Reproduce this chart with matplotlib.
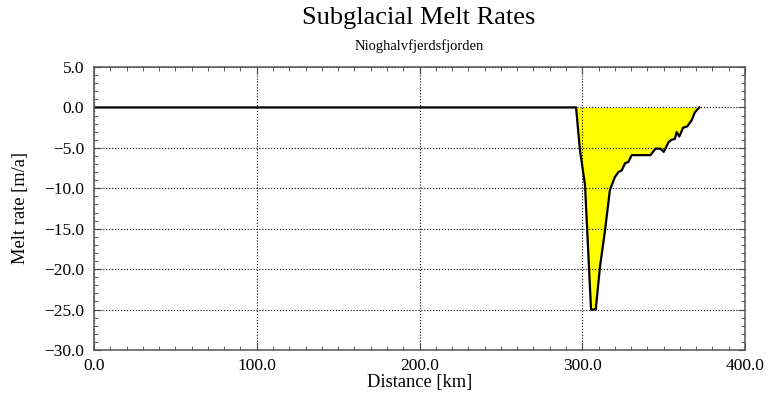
import numpy as np
import matplotlib
matplotlib.use("Agg")
import matplotlib.pyplot as plt
from matplotlib.ticker import MultipleLocator, FuncFormatter

# distance along the flowline [km] and melt rate [m/a]
distance = [0.0, 296.2, 298.6, 301.7, 305.4, 308.3, 310.9, 314.0, 317.0, 320.1,
            322.2, 324.2, 326.3, 328.3, 330.4, 341.9, 345.0, 348.0, 350.1, 353.0,
            354.9, 356.9, 358.0, 359.6, 362.0, 364.5, 367.2, 369.2, 371.9]
melt = [0.0, 0.0, -5.3, -9.6, -25.0, -25.0, -19.7, -15.2, -10.2, -8.6,
        -8.0, -7.8, -6.9, -6.75, -5.9, -5.9, -5.1, -5.1, -5.5, -4.3,
        -4.0, -3.9, -3.05, -3.6, -2.5, -2.35, -1.6, -0.6, 0.0]

plt.rcParams['font.family'] = ['Liberation Serif', 'DejaVu Serif']

fig = plt.figure(figsize=(7.66, 4.01), dpi=100)
ax = fig.add_axes([94/766, 1-350/401, (745-94)/766, (350-67)/401])

x = np.array(distance)
y = np.array(melt)
ax.fill_between(x, y, 0, where=(x >= 296), color='#FFFF00', linewidth=0)
ax.plot(x, y, color='black', linewidth=1.6)

fmt = FuncFormatter(lambda v, p: f"{v:.1f}".replace('-', '\u2212'))
ax.set_xlim(0, 400)
ax.set_ylim(-30, 5)
ax.xaxis.set_major_locator(MultipleLocator(100))
ax.xaxis.set_minor_locator(MultipleLocator(10))
ax.yaxis.set_major_locator(MultipleLocator(5))
ax.yaxis.set_minor_locator(MultipleLocator(1))
ax.xaxis.set_major_formatter(fmt)
ax.yaxis.set_major_formatter(fmt)
ax.tick_params(which='both', direction='in', top=True, right=True,
               labelsize=12.5, color='#444444')
ax.tick_params(which='major', length=5)
ax.tick_params(which='minor', length=3)
ax.tick_params(axis='x', which='major', pad=6)
ax.tick_params(axis='y', which='major', pad=7)
ax.grid(True, which='major', linestyle=':', color='black', linewidth=0.8)
for s in ax.spines.values():
    s.set_color('#555555')
    s.set_linewidth(1.1)

ax.set_xlabel('Distance [km]', fontsize=13.3)
ax.set_ylabel('Melt rate [m/a]', fontsize=13.3)
ax.xaxis.set_label_coords(0.5, -(374-350)/283)
ax.yaxis.set_label_coords(-(94-29)/651, 0.5)

fig.text(419/766, 1-18/401, 'Subglacial Melt Rates', ha='center', va='center', fontsize=19)
fig.text(419/766, 1-46/401, 'Nioghalvfjerdsfjorden', ha='center', va='center', fontsize=10.5)

fig.savefig('out.png', dpi=100)
